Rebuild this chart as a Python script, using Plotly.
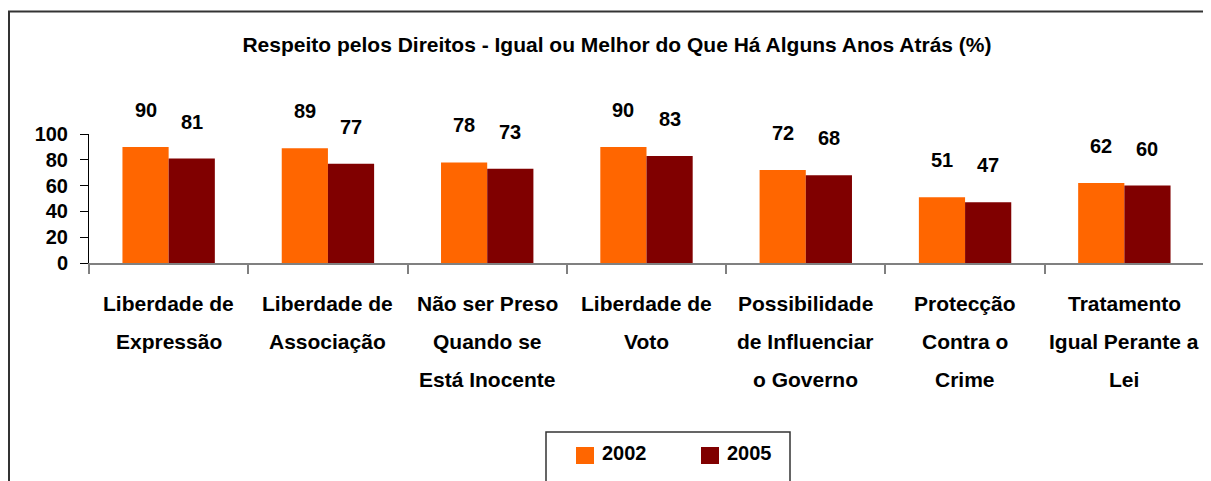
import plotly.graph_objects as go

categories = [
    "Liberdade de|Expressão",
    "Liberdade de|Associação",
    "Não ser Preso|Quando se|Está Inocente",
    "Liberdade de|Voto",
    "Possibilidade|de Influenciar|o Governo",
    "Protecção|Contra o|Crime",
    "Tratamento|Igual Perante a|Lei",
]
series_names = ["2002", "2005"]
values_2002 = [90, 89, 78, 90, 72, 51, 62]
values_2005 = [81, 77, 73, 83, 68, 47, 60]
y_ticks = [0, 20, 40, 60, 80, 100]
title_text = "Respeito pelos Direitos - Igual ou Melhor do Que Há Alguns Anos Atrás (%)"

colors = ["#FF6600", "#800000"]
FONT = "Liberation Sans, Arial, sans-serif"

W, H = 1211, 481
OFF = 8  # page body margin
ML = 89 - OFF
MT = 134 - OFF
MB = H - (263 - OFF)
MR = W - (1204 - OFF)
pw = W - ML - MR
ph = H - MT - MB

def px_x(px):
    return (px - OFF - ML) / pw

def px_y(py):
    return (H - MB - (py - OFF)) / ph

x_idx = list(range(len(categories)))

fig = go.Figure()
for name, vals, col in zip(series_names, [values_2002, values_2005], colors):
    fig.add_trace(go.Bar(x=x_idx, y=vals, name=name, marker=dict(color=col, line=dict(width=0)),
                         showlegend=False))

annotations = []
# value labels
bar_px = pw / len(categories) * (1 - 0.42) / 2
for vals, sh in [(values_2002, -bar_px / 2), (values_2005, bar_px / 2)]:
    for i, v in enumerate(vals):
        annotations.append(dict(x=i, y=v, xref="x", yref="y", text=str(v), showarrow=False,
                                xshift=sh, yshift=37, yanchor="middle",
                                font=dict(family=FONT, size=20, color="black", weight="bold")))
# category labels
for i, c in enumerate(categories):
    for j, line in enumerate(c.split("|")):
        annotations.append(dict(x=i, y=0, xref="x", yref="paper", text=line, showarrow=False,
                                yshift=-40 - 38 * j, yanchor="middle",
                                font=dict(family=FONT, size=21, color="black", weight="bold")))

shapes = []
# outer border (cut off at right and bottom like the original)
shapes.append(dict(type="rect", xref="paper", yref="paper",
                   x0=px_x(9), x1=px_x(1240), y0=px_y(520), y1=px_y(11.5),
                   line=dict(color="#333333", width=2), fillcolor="rgba(0,0,0,0)", layer="below"))
# legend box
shapes.append(dict(type="rect", xref="paper", yref="paper",
                   x0=px_x(546), x1=px_x(790), y0=px_y(520), y1=px_y(432),
                   line=dict(color="#333333", width=1.5), fillcolor="rgba(0,0,0,0)"))
leg_sq = [576, 701]
for name, col, sx in zip(series_names, colors, leg_sq):
    shapes.append(dict(type="rect", xref="paper", yref="paper",
                       x0=px_x(sx), x1=px_x(sx + 18), y0=px_y(464), y1=px_y(447),
                       line=dict(width=0), fillcolor=col))
    annotations.append(dict(x=px_x(sx + 24), y=px_y(453), xref="paper", yref="paper", text=name,
                            showarrow=False, xanchor="left", yanchor="middle",
                            font=dict(family=FONT, size=20, color="black", weight="bold")))

fig.update_layout(
    width=W, height=H, autosize=False,
    margin=dict(l=ML, r=MR, t=MT, b=MB),
    paper_bgcolor="white", plot_bgcolor="white",
    barmode="group", bargap=0.42, bargroupgap=0,
    title=dict(text=title_text, x=(617 - OFF) / W, xanchor="center", y=1 - (45 - OFF) / H, yanchor="middle",
               font=dict(family=FONT, size=21, color="black", weight="bold")),
    xaxis=dict(type="linear", range=[-0.5, len(categories) - 0.5],
               tickvals=[i - 0.5 for i in range(len(categories) + 1)], ticktext=[""] * (len(categories) + 1),
               ticks="outside", ticklen=9, tickwidth=1.5, tickcolor="#808080",
               showline=True, linecolor="#808080", linewidth=2, showgrid=False, zeroline=False),
    yaxis=dict(range=[0, 100], tickvals=y_ticks, ticks="outside", ticklen=8, tickcolor="black", tickwidth=1,
               showline=True, linecolor="black", linewidth=1, showgrid=False, zeroline=False,
               ticklabelstandoff=8,
               tickfont=dict(family=FONT, size=20, color="black", weight="bold")),
    annotations=annotations,
    shapes=shapes,
)

fig.write_html("out.html")
